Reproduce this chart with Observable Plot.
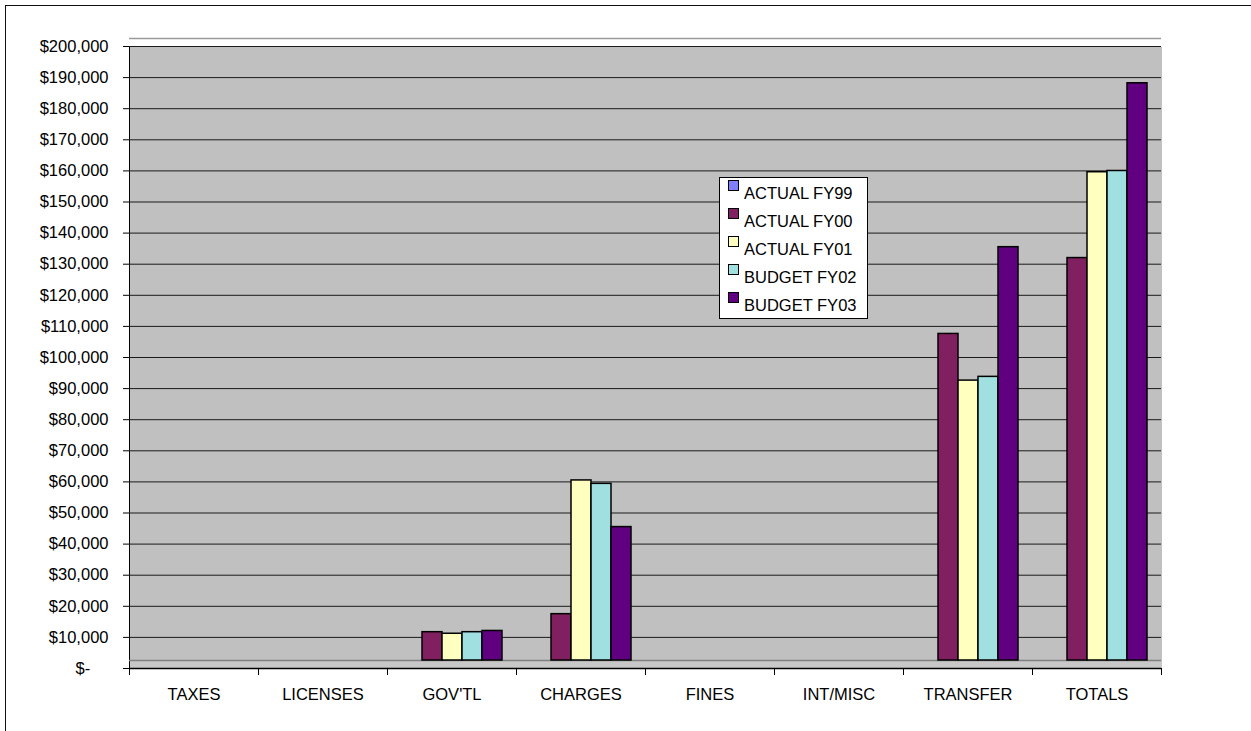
<!DOCTYPE html>
<html><head><meta charset="utf-8">
<script src="https://cdn.jsdelivr.net/npm/d3@7"></script>
<script src="https://cdn.jsdelivr.net/npm/@observablehq/plot@0.6"></script>
<style>
body{margin:0;background:#fff;}
#wrap{position:relative;width:1251px;height:731px;overflow:hidden;font-family:"Liberation Sans",Arial,sans-serif;}
#chart{position:absolute;left:0;top:0;}
#border{position:absolute;left:5px;top:5px;width:1270px;height:800px;border:1.5px solid #111;pointer-events:none;}
#legend{position:absolute;left:719px;top:177px;width:147px;height:140px;background:#fff;border:1px solid #000;}
.row{position:absolute;left:0;height:28px;width:100%;}
.sw{position:absolute;left:8px;top:2px;width:9px;height:9px;border:1px solid #000;}
.lab{position:absolute;left:24px;top:7px;font-size:16.5px;line-height:1;white-space:nowrap;color:#000;}
</style></head>
<body><div id="wrap"><div id="chart"></div><div id="legend"></div><div id="border"></div></div>
<script>
const categories = ["TAXES","LICENSES","GOV'TL","CHARGES","FINES","INT/MISC","TRANSFER","TOTALS"];
const seriesNames = ["ACTUAL FY99","ACTUAL FY00","ACTUAL FY01","BUDGET FY02","BUDGET FY03"];
const seriesColors = ["#8080ff","#802060","#ffffc0","#a0e0e0","#600080"];
const actualFY99 = [0,0,0,0,0,0,0,0];
const actualFY00 = [0,0,9100,14900,0,0,105000,129400];
const actualFY01 = [0,0,8600,57900,0,0,90000,157000];
const budgetFY02 = [0,0,9100,56800,0,0,91200,157400];
const budgetFY03 = [0,0,9500,42900,0,0,132900,185600];
const yTicks = [0,10000,20000,30000,40000,50000,60000,70000,80000,90000,100000,110000,120000,130000,140000,150000,160000,170000,180000,190000,200000];

const seriesValues = [actualFY99, actualFY00, actualFY01, budgetFY02, budgetFY03];
const rows = [];
categories.forEach((c, i) => seriesNames.forEach((s, j) => rows.push({category: c, series: s, value: seriesValues[j][i]})));

const W = 1251, H = 731, mL = 129, mR = 90, mT = 46, mB = 63;
const plotH = H - mT - mB;
const fmt = v => v === 0 ? "$-\u2007\u2007" : "$" + d3.format(",")(v);

const chart = Plot.plot({
  width: W, height: H,
  marginLeft: mL, marginRight: mR, marginTop: mT, marginBottom: mB,
  style: {fontFamily: "'Liberation Sans', Arial, sans-serif", fontSize: "16.5px", color: "#000", background: "transparent"},
  fx: {domain: categories, padding: 0, label: null, axis: "bottom", tickSize: 0, tickPadding: 20},
  x: {domain: seriesNames, paddingInner: 0, paddingOuter: 0.725, axis: null},
  y: {domain: [0, 200000], ticks: yTicks, tickFormat: fmt, tickSize: 6, tickPadding: 15, label: null, line: true},
  color: {domain: seriesNames, range: seriesColors},
  marks: [
    Plot.frame({fill: "#c0c0c0", shapeRendering: "crispEdges"}),
    Plot.frame({fill: "#c8c8c8", insetTop: plotH - 8, shapeRendering: "crispEdges"}),
    Plot.ruleY([0], {dy: -8, stroke: "#808080", strokeWidth: 1.5}),
    Plot.ruleY(yTicks.filter(v => v > 0), {stroke: "#1a1a1a"}),
    Plot.ruleY([200000], {dy: -8, stroke: "#9a9a9a", strokeWidth: 1.5}),
    Plot.barY(rows, {fx: "category", x: "series", y: "value", fill: "series",
      fillOpacity: d => d.value > 0 ? 1 : 0, strokeOpacity: d => d.value > 0 ? 1 : 0,
      stroke: "#000", strokeWidth: 1.5, dy: -8}),
    Plot.ruleY([0], {stroke: "#000", strokeWidth: 1.5}),
    Plot.frame({anchor: "left", stroke: "#000", insetTop: plotH, insetBottom: -6}),
    Plot.frame({anchor: "right", stroke: "#000", insetTop: plotH, insetBottom: -6})
  ]
});
document.getElementById("chart").appendChild(chart);

const legend = document.getElementById("legend");
seriesNames.forEach((s, i) => {
  const row = document.createElement("div");
  row.className = "row";
  row.style.top = (i * 28) + "px";
  const sw = document.createElement("span");
  sw.className = "sw";
  sw.style.background = seriesColors[i];
  const lab = document.createElement("span");
  lab.className = "lab";
  lab.textContent = s;
  row.appendChild(sw); row.appendChild(lab);
  legend.appendChild(row);
});
</script>
</body></html>
